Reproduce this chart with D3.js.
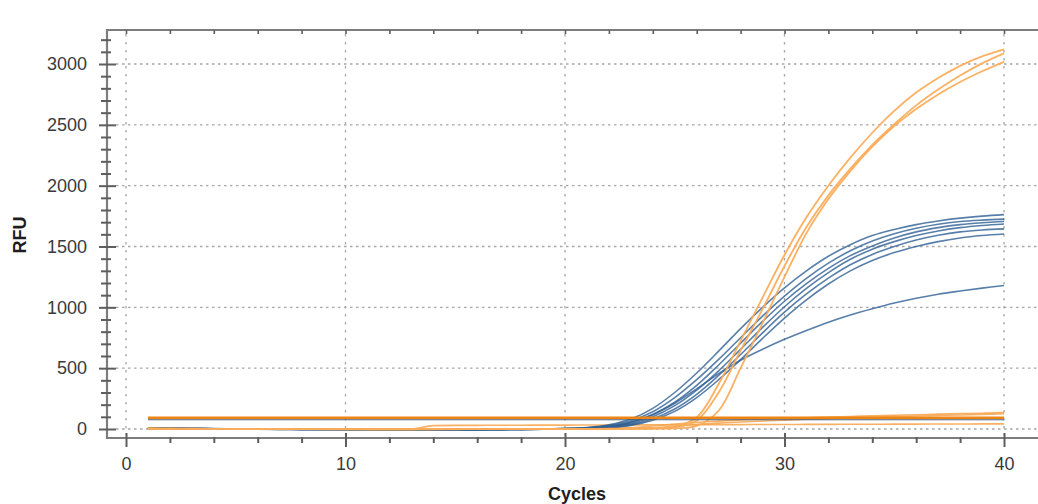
<!DOCTYPE html>
<html>
<head>
<meta charset="utf-8">
<script src="https://cdn.jsdelivr.net/npm/d3@7"></script>
<style>
  html, body { margin: 0; padding: 0; background: #ffffff; }
  svg { display: block; font-family: "Liberation Sans", Arial, sans-serif; }
</style>
</head>
<body>
<svg id="chart" width="1038" height="504"></svg>
<script>
// Amplification run: RFU per cycle, cycles 1..40
const cycles = d3.range(1, 41);

const xTicks = [0, 10, 20, 30, 40];
const yTicks = [0, 500, 1000, 1500, 2000, 2500, 3000];

// Blue channel wells
const blueA = [10,7,5,3,1,0,-1,-2,-3,-4,-4,-5,-5,-5,-4,-4,-3,-2,0,4,
  12,34,82,170,300,460,640,825,1000,1160,1300,1420,1515,1590,1640,1680,1710,1733,1750,1762];
const blueB = [8,6,4,2,0,-1,-2,-3,-4,-4,-5,-5,-6,-6,-5,-5,-4,-3,-1,3,
  9,28,68,142,258,405,572,750,928,1092,1238,1363,1465,1545,1605,1650,1683,1705,1717,1725];
const blueC = [9,6,4,2,1,-1,-2,-3,-3,-4,-5,-5,-5,-6,-5,-4,-4,-3,-1,2,
  7,22,56,120,220,358,526,705,884,1050,1195,1320,1425,1505,1570,1620,1655,1680,1695,1705];
const blueD = [7,5,3,1,0,-1,-2,-3,-4,-5,-5,-6,-6,-6,-6,-5,-4,-3,-2,1,
  5,17,44,100,192,320,478,655,835,1005,1155,1285,1395,1478,1540,1590,1628,1655,1673,1685];
const blueE = [8,5,3,2,0,-1,-3,-3,-4,-5,-5,-6,-6,-7,-6,-5,-5,-3,-2,1,
  4,13,36,84,165,285,440,612,790,960,1110,1240,1350,1435,1500,1553,1592,1620,1636,1645];
const blueF = [6,4,2,1,-1,-2,-3,-4,-4,-5,-6,-6,-7,-7,-6,-6,-5,-4,-2,0,
  3,10,30,72,145,258,405,570,745,912,1062,1192,1300,1385,1450,1500,1540,1570,1590,1603];
const blueG = [9,6,4,2,1,0,-1,-2,-3,-3,-4,-4,-5,-5,-4,-4,-3,-2,0,3,
  6,22,56,118,212,330,455,565,655,737,810,878,937,988,1035,1075,1108,1134,1158,1180];

// Orange channel wells that amplify
const orangeA = [4,3,2,1,0,0,-1,-1,-2,-2,-2,-2,-2,-2,-1,-1,-1,0,0,1,
  1,2,3,5,20,95,370,725,1080,1430,1740,2000,2230,2435,2615,2765,2885,2985,3062,3120];
const orangeB = [3,2,1,1,0,0,-1,-1,-1,-2,-2,-2,-2,-1,-1,-1,0,0,0,1,
  1,1,2,4,12,70,300,645,985,1340,1660,1920,2140,2335,2505,2660,2790,2905,3005,3087];
const orangeC = [5,3,2,1,1,0,0,-1,-1,-1,-2,-2,-2,-2,-2,-1,-1,-1,0,0,
  1,1,2,3,5,25,150,500,870,1250,1610,1890,2120,2320,2490,2630,2750,2852,2940,3018];

// Orange channel wells without amplification
const orangeLow1 = [2,1,0,0,-1,-1,-2,-2,-2,-2,-2,-1,0,28,30,30,31,31,32,32,
  33,33,34,34,35,35,36,36,37,37,38,38,39,39,40,40,41,41,42,42];
const orangeLow2 = [1,0,0,-1,-1,-1,-1,-1,-1,-1,0,0,0,0,0,1,1,1,2,3,
  5,7,10,25,40,55,65,75,82,88,93,98,103,108,113,117,122,126,130,135];
const orangeLow3 = [0,0,-1,-1,-1,-2,-2,-2,-1,-1,-1,0,0,0,0,0,1,1,1,2,
  3,4,6,10,25,38,48,58,66,73,80,86,92,97,102,107,111,115,120,125];

// Threshold levels per channel
const thresholdOrange = 92;
const thresholdBlue = 76;

const blueSeries = [blueA, blueB, blueC, blueD, blueE, blueF, blueG];
const orangeAmpSeries = [orangeA, orangeB, orangeC];
const orangeLowSeries = [orangeLow1, orangeLow2, orangeLow3];

const svg = d3.select("#chart");

const x = d3.scaleLinear().domain([0, 40]).range([126, 1004]);
const y = d3.scaleLinear().domain([0, 3000]).range([429, 64]);

const frameLeft = 107, frameTop = 30, frameBottom = 438, frameRight = 1040;
const axisColor = "#7d7d7d";
const labelColor = "#3a3a3a";

// Dotted grid
const grid = svg.append("g");
grid.selectAll("line.h").data(yTicks).join("line")
  .attr("x1", 116).attr("x2", frameRight)
  .attr("y1", d => y(d)).attr("y2", d => y(d))
  .attr("stroke", "#a6a6a6").attr("stroke-width", 1.3)
  .attr("stroke-dasharray", "2.5,3.5");
grid.selectAll("line.v").data(xTicks).join("line")
  .attr("x1", d => x(d)).attr("x2", d => x(d))
  .attr("y1", frameTop + 4).attr("y2", frameBottom - 3)
  .attr("stroke", "#a6a6a6").attr("stroke-width", 1.3)
  .attr("stroke-dasharray", "2.5,5.5");

// Traces
const smoothLine = d3.line()
  .x((d, i) => x(cycles[i]))
  .y(d => y(d))
  .curve(d3.curveCatmullRom.alpha(0.5));
const stepLine = d3.line()
  .x((d, i) => x(cycles[i]))
  .y(d => y(d))
  .curve(d3.curveMonotoneX);

const traces = svg.append("g").attr("fill", "none");

traces.selectAll("path.low").data(orangeLowSeries).join("path")
  .attr("d", stepLine)
  .attr("stroke", "#f7a24a").attr("stroke-width", 1.6).attr("stroke-opacity", 0.85);

traces.selectAll("path.blue").data(blueSeries).join("path")
  .attr("d", smoothLine)
  .attr("stroke", "#2e5f93").attr("stroke-width", 1.6).attr("stroke-opacity", 0.8);

traces.selectAll("path.amp").data(orangeAmpSeries).join("path")
  .attr("d", smoothLine)
  .attr("stroke", "#fbac5a").attr("stroke-width", 1.8).attr("stroke-opacity", 0.95);

// Threshold lines
svg.append("line")
  .attr("x1", x(1)).attr("x2", x(40))
  .attr("y1", y(thresholdBlue)).attr("y2", y(thresholdBlue))
  .attr("stroke", "#4b5d75").attr("stroke-width", 1.2);
svg.append("line")
  .attr("x1", x(1)).attr("x2", x(40))
  .attr("y1", y(thresholdOrange)).attr("y2", y(thresholdOrange))
  .attr("stroke", "#ee8412").attr("stroke-width", 2.6);

// Frame
const frame = svg.append("g").attr("stroke", axisColor).attr("stroke-width", 2.2).attr("fill", "none");
frame.append("path")
  .attr("d", `M${frameRight},${frameTop}H${frameLeft}V${frameBottom}H${frameRight}`);

// Y axis: major and minor ticks crossing the frame line
const yMinor = d3.range(0, 3300, 100).filter(v => v % 500 !== 0);
const yAxisMajor = svg.append("g")
  .attr("transform", `translate(116,0)`)
  .call(d3.axisLeft(y).tickValues(yTicks).tickSize(17).tickPadding(12).tickFormat(d3.format("d")));
const yAxisMinor = svg.append("g")
  .attr("transform", `translate(111,0)`)
  .call(d3.axisLeft(y).tickValues(yMinor).tickSize(10).tickFormat(""));

// X axis: major every 10 cycles, minor every 2
const xMinor = d3.range(2, 42, 2).filter(v => v % 10 !== 0);
const xAxisMajor = svg.append("g")
  .attr("transform", `translate(0,433)`)
  .call(d3.axisBottom(x).tickValues(xTicks).tickSize(14).tickPadding(10).tickFormat(d3.format("d")));
const xAxisMinor = svg.append("g")
  .attr("transform", `translate(0,437)`)
  .call(d3.axisBottom(x).tickValues(xMinor).tickSize(6).tickFormat(""));

// Top frame ticks
const xAxisTop = svg.append("g")
  .attr("transform", `translate(0,${frameTop})`)
  .call(d3.axisBottom(x).tickValues(d3.range(0, 42, 2)).tickSize(4).tickFormat(""));

[yAxisMajor, yAxisMinor, xAxisMajor, xAxisMinor, xAxisTop].forEach(g => {
  g.select(".domain").remove();
  g.selectAll(".tick line").attr("stroke", "#5e5e5e").attr("stroke-width", 2);
  g.selectAll("text")
    .attr("fill", labelColor)
    .style("font-size", "18px")
    .style("font-family", "'Liberation Sans', Arial, sans-serif");
});
xAxisTop.selectAll(".tick line").attr("stroke-width", 1.6);

// Axis titles
svg.append("text")
  .attr("x", 577).attr("y", 500)
  .attr("text-anchor", "middle")
  .attr("fill", "#1e1e1e")
  .style("font-size", "18px").style("font-weight", "bold")
  .text("Cycles");

svg.append("text")
  .attr("transform", "translate(26,235) rotate(-90)")
  .attr("text-anchor", "middle")
  .attr("fill", "#1e1e1e")
  .style("font-size", "18px").style("font-weight", "bold")
  .text("RFU");
</script>
</body>
</html>
